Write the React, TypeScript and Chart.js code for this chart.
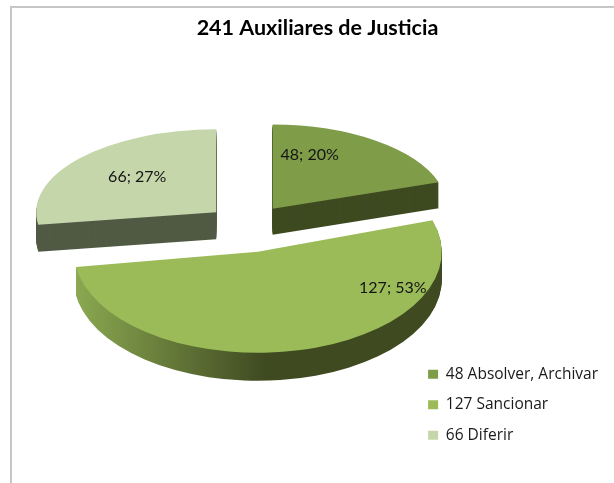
import React, { useEffect, useRef } from "react";
import { Chart, registerables } from "chart.js";

Chart.register(...registerables);

const titleText = "241 Auxiliares de Justicia";
const categories = ["48 Absolver, Archivar", "127 Sancionar", "66 Diferir"];
const seriesValues = [48, 127, 66];
const sliceColors = ["#7f9c48", "#9bbb59", "#c6d6ab"];
const wallColors: (string | string[])[] = ["#3e4a20", ["#8ba951", "#3f4a21", "#3f4a21"], "#515a44"];

const FONT = "Lato";
const LEGEND_FONT = "Open Sans";
const EXPLODE = 42;
const TILT = 0.55;
const RADIUS = 180;
const sliceDepth = [26, 28, 27];
const sliceNudge = [0, 2, 0];
// per-slice perspective: [horizontal scale, vertical scale]
const slicePerspective = [
  [0.972, 0.467],
  [1.022, 0.561],
  [1.0, 0.461],
];
const labelShift = [
  [37, -54],
  [135, 38],
  [-79, -35],
];
const drawOrder = [0, 2, 1];

function place(ctx: CanvasRenderingContext2D, el: any, i: number, dy = 0) {
  const mid = (el.startAngle + el.endAngle) / 2;
  const [sx, sy] = slicePerspective[i];
  ctx.translate(el.x + EXPLODE * Math.cos(mid), el.y + EXPLODE * Math.sin(mid) * TILT + sliceNudge[i] + dy);
  ctx.scale(sx, sy);
  ctx.translate(-el.x, -el.y);
}

const pie3d = {
  id: "pie3d",
  afterLayout(chart: any) {
    // title centred on the frame, legend in the lower right corner
    chart.titleBlock.left -= 56;
    chart.legend.top += 79;
    chart.legend.bottom += 79;
  },
  beforeDatasetDraw(chart: any, args: any) {
    const ctx: CanvasRenderingContext2D = chart.ctx;
    const arcs = args.meta.data;
    for (const i of drawOrder) {
      const el = arcs[i];
      const wall = wallColors[i];
      for (let d = sliceDepth[i]; d >= 1; d--) {
        ctx.save();
        place(ctx, el, i, d);
        if (Array.isArray(wall)) {
          const g = ctx.createLinearGradient(el.x - el.outerRadius, 0, el.x + el.outerRadius, 0);
          g.addColorStop(0, wall[0]);
          g.addColorStop(0.52, wall[1]);
          g.addColorStop(1, wall[2]);
          ctx.fillStyle = g;
        } else {
          ctx.fillStyle = wall;
        }
        ctx.beginPath();
        ctx.moveTo(el.x, el.y);
        ctx.arc(el.x, el.y, el.outerRadius, el.startAngle, el.endAngle);
        ctx.closePath();
        ctx.fill();
        ctx.restore();
      }
      ctx.save();
      place(ctx, el, i);
      el.draw(ctx);
      ctx.restore();
    }
    return false;
  },
  afterDatasetsDraw(chart: any) {
    const ctx: CanvasRenderingContext2D = chart.ctx;
    const arcs = chart.getDatasetMeta(0).data;
    const total = seriesValues.reduce((a, b) => a + b, 0);
    ctx.save();
    ctx.font = `16px ${FONT}`;
    ctx.fillStyle = "#141414";
    ctx.textAlign = "center";
    ctx.textBaseline = "middle";
    arcs.forEach((el: any, i: number) => {
      const mid = (el.startAngle + el.endAngle) / 2;
      const x = el.x + EXPLODE * Math.cos(mid) + labelShift[i][0];
      const y = el.y + EXPLODE * Math.sin(mid) * TILT + labelShift[i][1];
      ctx.fillText(`${seriesValues[i]}; ${Math.round((seriesValues[i] / total) * 100)}%`, x, y);
    });
    ctx.restore();
  },
};

export default function App() {
  const ref = useRef<HTMLCanvasElement>(null);
  useEffect(() => {
    const chart = new Chart(ref.current!, {
      type: "pie",
      data: {
        labels: categories,
        datasets: [{ data: seriesValues, backgroundColor: sliceColors, borderWidth: 0, radius: RADIUS } as any],
      },
      options: {
        responsive: false,
        animation: false,
        layout: { padding: { left: 83, right: 6, top: 15, bottom: 104 } },
        plugins: {
          title: {
            display: true,
            text: titleText,
            color: "#000",
            font: { family: FONT, size: 21.5, weight: "bold" },
            padding: { top: 0, bottom: 35 },
          },
          legend: {
            position: "right",
            align: "end",
            labels: {
              boxWidth: 10,
              boxHeight: 9,
              padding: 15,
              color: "#1a1a1a",
              font: { family: LEGEND_FONT, size: 15.5 },
            },
          },
          tooltip: { enabled: false },
        },
      },
      plugins: [pie3d],
    } as any);
    return () => chart.destroy();
  }, []);
  return (
    <div style={{ position: "fixed", inset: 0, overflow: "hidden", background: "#fff" }}>
      <div
        style={{
          position: "absolute",
          left: 10,
          top: 6,
          width: 800,
          height: 800,
          borderLeft: "2px solid #c6c6c6",
          borderTop: "2px solid #c6c6c6",
        }}
      />
      <canvas ref={ref} width={614} height={483} style={{ position: "absolute", left: 0, top: 0 }} />
    </div>
  );
}
